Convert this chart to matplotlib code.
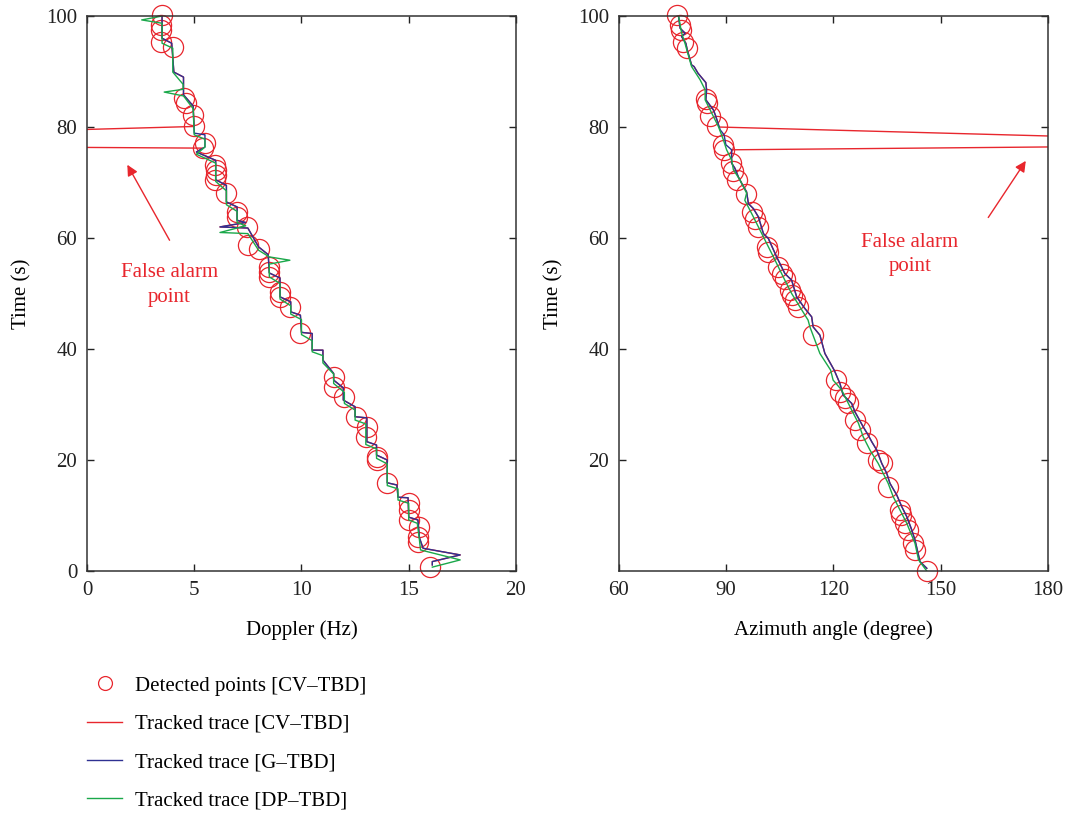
import numpy as np
import matplotlib
matplotlib.use("Agg")
import matplotlib.pyplot as plt
from matplotlib.lines import Line2D

plt.rcParams["font.family"] = ["Liberation Serif", "DejaVu Serif"]

RED = "#e8262d"
BLUE = "#2e3192"
GREEN = "#1aa84a"

# detected points (CV-TBD), Doppler panel
det_dop_time = [100.2, 98.4, 97.5, 95.4, 94.5, 85.2, 84.3, 82.2, 80.1, 77.1,
                76.2, 73.2, 72.3, 71.4, 70.5, 68.1, 64.7, 63.8, 62.0, 58.7,
                58.1, 54.8, 53.9, 53.0, 50.3, 49.4, 47.6, 42.8, 35.0, 33.2,
                31.4, 27.8, 26.0, 24.2, 20.6, 20.0, 15.8, 12.2, 11.0, 9.2,
                8.0, 6.2, 5.3, 0.8]
det_doppler = [3.5, 3.45, 3.45, 3.45, 4.0, 4.5, 4.6, 4.95, 5.0, 5.5,
               5.4, 5.95, 6.0, 6.0, 5.95, 6.5, 7.0, 7.0, 7.45, 7.5,
               8.0, 8.5, 8.5, 8.5, 9.0, 9.0, 9.45, 9.95, 11.5, 11.5,
               12.0, 12.55, 13.05, 13.0, 13.5, 13.5, 14.0, 15.0, 15.0, 15.0,
               15.5, 15.45, 15.45, 16.0]

# detected points (CV-TBD), azimuth panel
det_az_time = [100.2, 98.4, 97.5, 95.4, 94.2, 85.0, 84.3, 81.9, 80.1, 76.8,
               75.9, 73.5, 72.0, 70.5, 68.0, 64.7, 63.5, 62.0, 58.4, 57.5,
               54.8, 53.6, 52.7, 50.6, 49.7, 48.8, 47.6, 42.5, 34.4, 32.3,
               31.1, 30.2, 27.2, 25.4, 23.0, 20.0, 19.4, 15.2, 11.0, 10.1,
               8.6, 7.4, 5.0, 3.8, 0.0]
det_azimuth = [76.1, 77.1, 77.3, 78.0, 79.1, 84.3, 84.5, 85.5, 87.3, 89.2,
               89.4, 91.2, 92.0, 92.9, 95.5, 97.1, 98.0, 99.0, 101.3, 101.8,
               104.6, 105.5, 106.4, 107.8, 108.3, 109.2, 110.1, 114.3, 120.6, 121.8,
               123.2, 124.1, 126.0, 127.4, 129.3, 132.5, 133.5, 135.3, 138.6, 139.0,
               140.0, 140.9, 142.3, 142.8, 146.1]

# G-TBD track, Doppler
g_dop_time = [100, 96.0, 95.1, 89.9, 89.0, 85.8, 83.8, 78.9, 78.6, 76.4,
              75.5, 74.0, 70.5, 69.5, 66.5, 65.6, 63.2, 62.8, 62.0, 61.8,
              58.4, 57.0, 53.7, 52.8, 49.4, 48.5, 46.7, 46.1, 43.0, 42.8,
              39.8, 39.8, 38.0, 35.6, 34.4, 33.0, 30.8, 29.6, 27.8, 27.6,
              23.3, 22.7, 20.9, 20.0, 15.9, 15.5, 13.3, 13.2, 9.7, 9.2,
              6.0, 4.1, 2.9, 1.7, 1.1]
g_doppler = [3.5, 3.5, 3.95, 4.05, 4.5, 4.5, 4.95, 5.0, 5.5, 5.5,
             5.1, 6.0, 6.0, 6.5, 6.5, 7.0, 7.0, 7.4, 6.2, 7.5,
             8.0, 8.45, 8.5, 9.0, 9.0, 9.5, 9.5, 9.95, 10.0, 10.5,
             10.5, 11.0, 11.0, 11.5, 11.5, 11.95, 11.95, 12.5, 12.5, 13.05,
             13.05, 13.5, 13.5, 14.0, 14.0, 14.45, 14.5, 14.97, 15.0, 15.43,
             15.5, 15.67, 17.4, 16.1, 16.1]

# DP-TBD track, Doppler
dp_dop_time = [100, 99.3, 98.7, 95.1, 94.2, 89.9, 87.7, 86.8, 86.3, 85.6,
               83.3, 78.6, 77.8, 76.4, 75.1, 73.5, 70.2, 68.5, 66.0, 64.8,
               62.8, 62.2, 61.0, 60.8, 57.8, 56.6, 56.0, 55.3, 53.0, 51.8,
               49.0, 47.8, 46.3, 45.3, 42.6, 41.5, 39.5, 38.8, 37.5, 35.5,
               33.8, 32.2, 30.2, 29.0, 27.2, 26.5, 22.8, 22.0, 20.3, 19.3,
               15.4, 14.8, 12.8, 12.2, 9.2, 8.6, 5.6, 3.8, 2.0, 0.7]
dp_doppler = [3.5, 2.55, 3.5, 3.5, 4.0, 4.0, 4.48, 4.48, 3.6, 4.5,
              4.95, 5.0, 5.5, 5.5, 5.1, 6.0, 6.0, 6.5, 6.5, 7.0,
              7.0, 7.4, 6.2, 7.5, 8.0, 8.5, 9.46, 8.5, 8.5, 9.0,
              9.0, 9.5, 9.5, 10.0, 10.0, 10.5, 10.5, 11.0, 11.0, 11.5,
              11.5, 12.0, 12.0, 12.5, 12.5, 13.0, 13.0, 13.5, 13.5, 14.0,
              14.0, 14.5, 14.5, 15.0, 15.0, 15.4, 15.5, 15.55, 17.4, 16.1]

# G-TBD track, azimuth
g_az_time = [100.2, 97.8, 96.9, 96.3, 95.1, 93.9, 91.2, 90.9, 89.7, 88.0,
             86.7, 84.9, 83.1, 81.9, 79.5, 78.6, 76.8, 75.9, 73.5, 72.6,
             71.0, 69.9, 68.3, 66.2, 65.3, 63.8, 60.8, 59.9, 56.6, 53.6,
             52.4, 49.4, 47.3, 45.8, 44.0, 42.5, 39.2, 36.2, 33.8, 31.7,
             30.2, 28.7, 26.0, 24.5, 23.3, 21.8, 19.4, 17.6, 15.8, 13.7,
             11.6, 9.8, 7.4, 5.6, 1.7, 0.5]
g_azimuth = [76.6, 77.1, 78.5, 77.5, 78.7, 79.1, 80.3, 81.0, 82.1, 84.3,
             84.5, 84.3, 86.4, 87.1, 88.3, 89.4, 89.9, 91.5, 91.5, 92.4,
             93.4, 94.3, 95.7, 96.2, 97.6, 99.0, 100.4, 101.8, 104.1, 106.4,
             108.3, 109.7, 112.0, 113.9, 114.3, 116.2, 117.6, 120.2, 121.8, 122.7,
             125.1, 126.0, 128.3, 129.7, 130.7, 132.1, 133.5, 134.9, 135.8, 137.7,
             139.1, 140.5, 141.9, 142.8, 144.2, 146.1]

# DP-TBD track, azimuth
dp_az_time = [100.2, 97.0, 95.0, 93.6, 90.9, 88.5, 86.7, 84.9, 80.1, 77.7,
              75.9, 74.1, 72.3, 70.5, 68.1, 66.8, 63.8, 56.6, 52.4, 50.0,
              47.6, 45.2, 44.0, 39.2, 36.2, 34.4, 32.6, 30.8, 29.0, 26.6,
              24.2, 21.8, 19.4, 15.8, 13.4, 11.0, 8.6, 5.0, 2.0, 0.0]
dp_azimuth = [76.6, 77.5, 78.5, 79.1, 80.3, 82.7, 84.1, 84.1, 87.8, 89.2,
              90.1, 91.5, 92.0, 93.8, 95.7, 95.2, 97.6, 103.2, 106.4, 108.3,
              110.6, 112.9, 113.4, 116.2, 119.2, 119.9, 122.3, 123.7, 125.1, 127.0,
              128.3, 130.2, 132.5, 135.3, 136.7, 138.6, 140.5, 142.8, 143.8, 146.1]

# CV-TBD track jumps out to a false alarm point (off the plotted range)
fa_time = [80.1, 76.9, 76.2]
fa_doppler = [5.0, -25.0, 5.4]
fa_az_time = [80.0, 76.9, 75.9]
fa_azimuth = [88.0, 265.0, 91.5]


def cv_track(x, t, fx, ft):
    x = np.asarray(x)
    t = np.asarray(t)
    hi = t > ft[0]
    lo = t < ft[-1]
    return (np.concatenate([x[hi], fx, x[lo]]),
            np.concatenate([t[hi], ft, t[lo]]))


cv_dop, cv_dop_t = cv_track(g_doppler, g_dop_time, fa_doppler, fa_time)
cv_az, cv_az_t = cv_track(g_azimuth, g_az_time, fa_azimuth, fa_az_time)

fig = plt.figure(figsize=(10.7, 8.14), dpi=100)
ax1 = fig.add_axes([0.0813, 0.2985, 0.4009, 0.6818])
ax2 = fig.add_axes([0.5785, 0.2985, 0.4009, 0.6818])

panels = [
    (ax1, det_doppler, det_dop_time, cv_dop, cv_dop_t, g_doppler, g_dop_time,
     dp_doppler, dp_dop_time),
    (ax2, det_azimuth, det_az_time, cv_az, cv_az_t, g_azimuth, g_az_time,
     dp_azimuth, dp_az_time),
]
for ax, dx, dt, cx, ct, gx, gt, px, pt in panels:
    ax.plot(dx, dt, "o", ms=14.5, mfc="none", mec=RED, mew=0.9, clip_on=False)
    ax.plot(cx, ct, color=RED, lw=1.0)
    ax.plot(gx, gt, color=BLUE, lw=1.0)
    ax.plot(px, pt, color=GREEN, lw=1.0)
    ax.set_ylim(0, 100)
    ax.tick_params(direction="in", top=True, right=True, length=5,
                   width=1, labelsize=15, pad=7, colors="#222222")
    for s in ax.spines.values():
        s.set_linewidth(1.1)
        s.set_color("#333333")
    ax.set_ylabel("Time (s)", fontsize=15)

ax1.set_xlim(0, 20)
ax1.set_xticks([0, 5, 10, 15, 20])
ax1.set_yticks([0, 20, 40, 60, 80, 100])
ax1.set_xlabel("Doppler (Hz)", fontsize=15)

ax2.set_xlim(60, 180)
ax2.set_xticks([60, 90, 120, 150, 180])
ax2.set_yticks([20, 40, 60, 80, 100])
ax2.set_xlabel("Azimuth angle (degree)", fontsize=15)

for ax in (ax1, ax2):
    ax.xaxis.set_label_coords(0.5, -0.088)
    ax.yaxis.set_label_coords(-0.13, 0.5)

# false alarm annotations
ax1.annotate("", xy=(1.88, 73.2), xytext=(3.85, 59.6),
             arrowprops=dict(arrowstyle="-|>", color=RED, lw=1.0,
                             mutation_scale=16, shrinkA=0, shrinkB=0))
ax1.text(3.85, 51.5, "False alarm\npoint", color=RED, fontsize=15,
         ha="center", va="center", linespacing=1.4)
ax2.annotate("", xy=(173.8, 73.9), xytext=(163.3, 63.7),
             arrowprops=dict(arrowstyle="-|>", color=RED, lw=1.0,
                             mutation_scale=16, shrinkA=0, shrinkB=0))
ax2.text(141.4, 57.0, "False alarm\npoint", color=RED, fontsize=15,
         ha="center", va="center", linespacing=1.4)

handles = [
    Line2D([], [], ls="none", marker="o", ms=10, mfc="none", mec=RED, mew=0.9),
    Line2D([], [], color=RED, lw=1.0),
    Line2D([], [], color=BLUE, lw=1.0),
    Line2D([], [], color=GREEN, lw=1.0),
]
labels = ["Detected points [CV\u2013TBD]", "Tracked trace [CV\u2013TBD]",
          "Tracked trace [G\u2013TBD]", "Tracked trace [DP\u2013TBD]"]
fig.legend(handles, labels, loc="upper left",
           bbox_to_anchor=(87 / 1070, 1 - 676 / 814), frameon=False,
           fontsize=15, handlelength=1.7, handletextpad=0.6,
           labelspacing=0.9, borderpad=0, borderaxespad=0)

fig.savefig("out.png", dpi=100)
